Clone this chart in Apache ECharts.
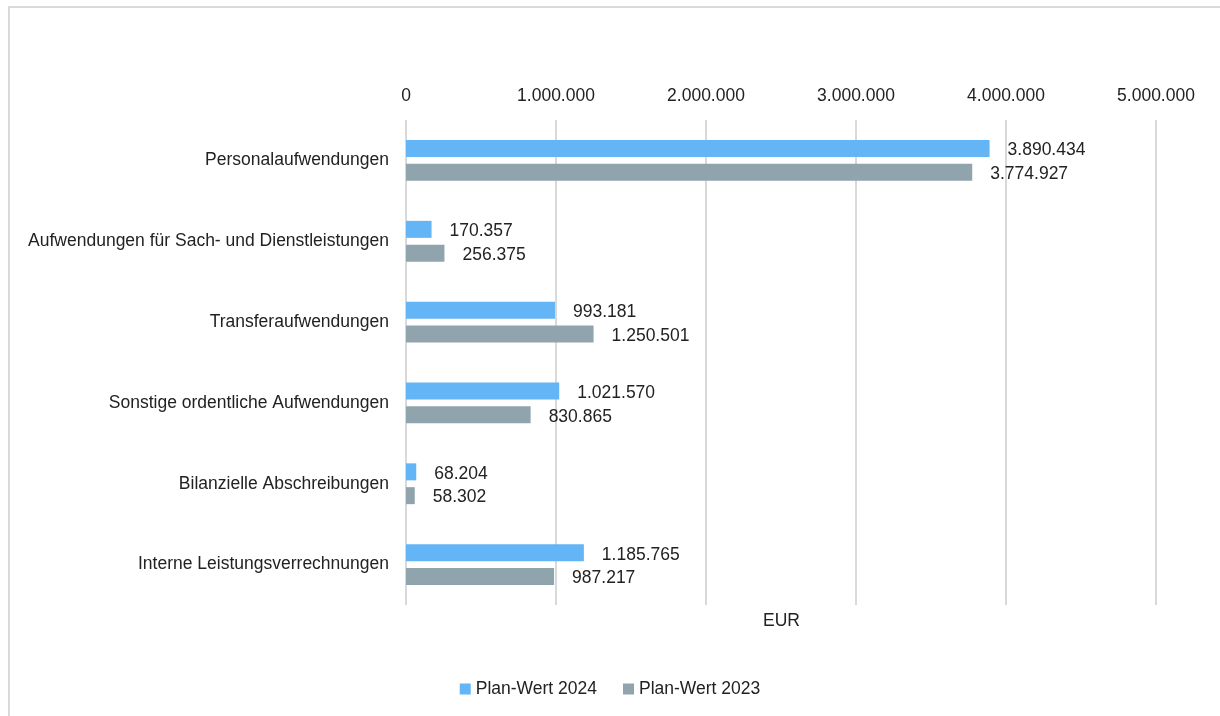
<!DOCTYPE html>
<html>
<head>
<meta charset="utf-8">
<script src="https://cdn.jsdelivr.net/npm/echarts@6/dist/echarts.min.js"></script>
<style>
  html, body { margin: 0; padding: 0; background: #fff; }
  #chart { width: 1220px; height: 716px; }
</style>
</head>
<body>
<div id="chart"></div>
<script>
// data
const categories = [
  'Personalaufwendungen',
  'Aufwendungen für Sach- und Dienstleistungen',
  'Transferaufwendungen',
  'Sonstige ordentliche Aufwendungen',
  'Bilanzielle Abschreibungen',
  'Interne Leistungsverrechnungen'
];
const plan2024 = [3890434, 170357, 993181, 1021570, 68204, 1185765];
const plan2023 = [3774927, 256375, 1250501, 830865, 58302, 987217];
const seriesNames = ['Plan-Wert 2024', 'Plan-Wert 2023'];

const FONT = '"Liberation Sans", Arial, sans-serif';
const FS = 17.5;

// 1234567 -> "1.234.567"
const fmt = (v) => String(Math.round(v)).replace(/\B(?=(\d{3})+(?!\d))/g, '.');

const chart = echarts.init(document.getElementById('chart'));

const labelStyle = {
  show: true,
  position: 'right',
  distance: 18,
  offset: [0, 2],
  color: '#222',
  fontFamily: FONT,
  fontSize: FS,
  formatter: (p) => fmt(p.value)
};

const option = {
  animation: false,
  backgroundColor: '#fff',
  textStyle: { fontFamily: FONT },
  grid: { left: 406, right: 64, top: 120, bottom: 111, containLabel: false, outerBoundsMode: 'none' },
  legend: {
    bottom: 13,
    left: 'center',
    itemWidth: 11,
    itemHeight: 11,
    itemGap: 26,
    icon: 'rect',
    textStyle: { fontFamily: FONT, fontSize: FS, color: '#222' },
    data: seriesNames
  },
  xAxis: {
    type: 'value',
    position: 'top',
    min: 0,
    max: 5000000,
    interval: 1000000,
    axisLine: { show: false },
    axisTick: { show: false },
    axisLabel: {
      margin: 15,
      color: '#222',
      fontFamily: FONT,
      fontSize: FS,
      formatter: fmt
    },
    splitLine: { show: true, lineStyle: { color: '#d9d9d9', width: 2 } }
  },
  yAxis: {
    type: 'category',
    inverse: true,
    data: categories,
    axisLine: { show: false },
    axisTick: { show: false },
    axisLabel: {
      margin: 17,
      padding: [6, 0, 0, 0],
      color: '#222',
      fontFamily: FONT,
      fontSize: FS
    }
  },
  series: [
    {
      name: seriesNames[0],
      type: 'bar',
      data: plan2024,
      barWidth: 17,
      barGap: '40%',
      itemStyle: { color: '#63b5f5' },
      label: labelStyle
    },
    {
      name: seriesNames[1],
      type: 'bar',
      data: plan2023,
      barWidth: 17,
      barGap: '40%',
      itemStyle: { color: '#90a4ae' },
      label: labelStyle
    }
  ],
  graphic: [
    {
      type: 'rect',
      shape: { x: 9, y: 7, width: 1230, height: 740 },
      style: { fill: 'none', stroke: '#d9d9d9', lineWidth: 2 },
      silent: true
    },
    {
      type: 'text',
      left: 763,
      top: 612,
      style: { text: 'EUR', fill: '#222', font: FS + 'px ' + FONT }
    }
  ]
};

chart.setOption(option);
</script>
</body>
</html>
